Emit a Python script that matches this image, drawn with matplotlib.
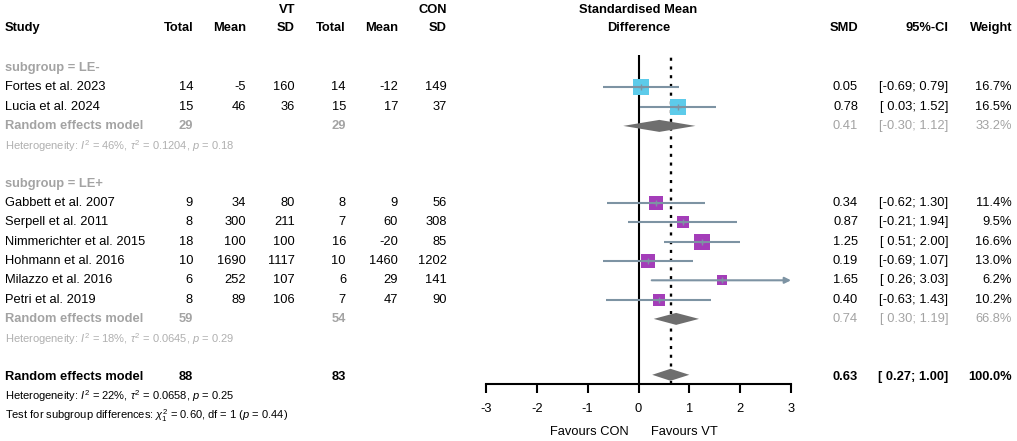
import numpy as np
import matplotlib
matplotlib.use("Agg")
import matplotlib.pyplot as plt

plt.rcParams['font.family'] = ['Liberation Sans', 'DejaVu Sans']
plt.rcParams['mathtext.fontset'] = 'custom'
plt.rcParams['mathtext.rm'] = 'Liberation Sans'
plt.rcParams['mathtext.it'] = 'Liberation Sans:italic'
plt.rcParams['mathtext.bf'] = 'Liberation Sans:bold'

# ---------------- data ----------------
studies = ["Fortes et al. 2023", "Lucia et al. 2024",
           "Gabbett et al. 2007", "Serpell et al. 2011", "Nimmerichter et al. 2015",
           "Hohmann et al. 2016", "Milazzo et al. 2016", "Petri et al. 2019"]
study_group = ["LE-", "LE-", "LE+", "LE+", "LE+", "LE+", "LE+", "LE+"]
vt_n = [14, 15, 9, 8, 18, 10, 6, 8]
vt_mean = [-5, 46, 34, 300, 100, 1690, 252, 89]
vt_sd = [160, 36, 80, 211, 100, 1117, 107, 106]
con_n = [14, 15, 8, 7, 16, 10, 6, 7]
con_mean = [-12, 17, 9, 60, -20, 1460, 29, 47]
con_sd = [149, 37, 56, 308, 85, 1202, 141, 90]
smd = [0.05, 0.78, 0.34, 0.87, 1.25, 0.19, 1.65, 0.40]
ci_lo = [-0.69, 0.03, -0.62, -0.21, 0.51, -0.69, 0.26, -0.63]
ci_hi = [0.79, 1.52, 1.30, 1.94, 2.00, 1.07, 3.03, 1.43]
weight = [16.7, 16.5, 11.4, 9.5, 16.6, 13.0, 6.2, 10.2]

groups = ["LE-", "LE+"]
grp_vt_n = [29, 59]
grp_con_n = [29, 54]
grp_smd = [0.41, 0.74]
grp_lo = [-0.30, 0.30]
grp_hi = [1.12, 1.19]
grp_weight = [33.2, 66.8]
grp_i2 = ["46%", "18%"]
grp_tau2 = ["0.1204", "0.0645"]
grp_p = ["0.18", "0.29"]

all_vt_n = 88
all_con_n = 83
all_smd = 0.63
all_lo = 0.27
all_hi = 1.00
all_weight = 100.0
all_i2 = "22%"
all_tau2 = "0.0658"
all_p = "0.25"
test_chi2 = "0.60"
test_df = 1
test_p = "0.44"

x_ticks = [-3, -2, -1, 0, 1, 2, 3]
group_colors = {"LE-": "#5DCBEA", "LE+": "#A43DB9"}

# ---------------- layout ----------------
W, H = 1017, 441
fig = plt.figure(figsize=(W / 100, H / 100), dpi=100)
ax = fig.add_axes([0, 0, 1, 1])
ax.set_xlim(0, W)
ax.set_ylim(H, 0)
ax.axis('off')

# forest panel: x -3..3 between px 486 and 791, vertical px 55..384
fx0, fx1 = 486, 791
fy_top, fy_bot = 55, 384
fax = fig.add_axes([fx0 / W, (H - fy_bot) / H, (fx1 - fx0) / W, (fy_bot - fy_top) / H])
fax.set_xlim(-3, 3)
fax.set_ylim(fy_bot, fy_top)
fax.patch.set_visible(False)
for s in ['top', 'left', 'right']:
    fax.spines[s].set_visible(False)
fax.spines['bottom'].set_linewidth(1.5)
fax.set_yticks([])
fax.set_xticks(x_ticks)
fax.set_xticklabels([str(t) for t in x_ticks], fontsize=9.3)
fax.tick_params(axis='x', direction='out', length=6.5, width=1.5, pad=7.5)


def row_y(i):
    return 68 + 19.3 * i


FS = 9.3
FS_SMALL = 8
GRAY = "#A3A3A3"
LGRAY = "#B0B0B0"
LINEC = "#7D93A3"
DIAM = "#6E6E6E"

col_study = 5
col_vt_n, col_vt_mean, col_vt_sd = 193, 246, 295
col_con_n, col_con_mean, col_con_sd = 346, 398, 447
col_smd, col_ci, col_w = 858, 948, 1012

# headers
y_h1, y_h2 = 10, 28
ax.text(col_vt_sd, y_h1, "VT", ha='right', va='center', fontsize=FS, fontweight='bold')
ax.text(col_con_sd, y_h1, "CON", ha='right', va='center', fontsize=FS, fontweight='bold')
ax.text(col_study, y_h2, "Study", ha='left', va='center', fontsize=FS, fontweight='bold')
for cx, lab in [(col_vt_n, "Total"), (col_vt_mean, "Mean"), (col_vt_sd, "SD"),
                (col_con_n, "Total"), (col_con_mean, "Mean"), (col_con_sd, "SD"),
                (col_smd, "SMD"), (col_ci, "95%-CI"), (col_w, "Weight")]:
    ax.text(cx, y_h2, lab, ha='right', va='center', fontsize=FS, fontweight='bold')
fax.text(0, y_h1, "Standardised Mean", ha='center', va='center', fontsize=FS,
         fontweight='bold', clip_on=False)
fax.text(0, y_h2, "Difference", ha='center', va='center', fontsize=FS,
         fontweight='bold', clip_on=False)


def fmt_ci(lo, hi):
    return f"[{lo:5.2f};{hi:5.2f}]"


# reference lines
fax.axvline(0, color='black', lw=1.5, zorder=1)
fax.axvline(all_smd, color='black', lw=1.7, linestyle=(0, (1.3, 2.4)), zorder=1)


def diamond(y, est, lo, hi, h=6):
    fax.fill([lo, est, hi, est], [y, y - h, y, y + h], color=DIAM, zorder=4,
             clip_on=False, lw=0)


row = 0
for g_i, g in enumerate(groups):
    ax.text(col_study, row_y(row), f"subgroup = {g}", ha='left', va='center',
            fontsize=FS, fontweight='bold', color=GRAY)
    row += 1
    for k in range(len(studies)):
        if study_group[k] != g:
            continue
        y = row_y(row)
        ax.text(col_study, y, studies[k], ha='left', va='center', fontsize=FS)
        for cx, v in [(col_vt_n, vt_n[k]), (col_vt_mean, vt_mean[k]), (col_vt_sd, vt_sd[k]),
                      (col_con_n, con_n[k]), (col_con_mean, con_mean[k]), (col_con_sd, con_sd[k])]:
            ax.text(cx, y, str(v), ha='right', va='center', fontsize=FS)
        ax.text(col_smd, y, f"{smd[k]:.2f}", ha='right', va='center', fontsize=FS)
        ax.text(col_ci, y, fmt_ci(ci_lo[k], ci_hi[k]), ha='right', va='center', fontsize=FS)
        ax.text(col_w, y, f"{weight[k]:.1f}%", ha='right', va='center', fontsize=FS)
        # marks
        side_px = 4.0 * np.sqrt(weight[k])
        fax.plot([smd[k]], [y], marker='s', markersize=side_px * 0.72,
                 color=group_colors[g], markeredgewidth=0, zorder=3)
        hi_draw = min(ci_hi[k], 3)
        lo_draw = max(ci_lo[k], -3)
        if ci_hi[k] > 3:
            fax.annotate("", xy=(3, y), xytext=(lo_draw, y),
                         arrowprops=dict(arrowstyle='-|>', color=LINEC, lw=1.5,
                                         mutation_scale=9, shrinkA=0, shrinkB=0),
                         zorder=5, annotation_clip=False)
        else:
            fax.plot([lo_draw, hi_draw], [y, y], color=LINEC, lw=1.5, zorder=5,
                     solid_capstyle='butt')
        fax.plot([smd[k]], [y], marker='+', markersize=4, color=LINEC,
                 markeredgewidth=1, zorder=6)
        row += 1
    y = row_y(row)
    ax.text(col_study, y, "Random effects model", ha='left', va='center', fontsize=FS,
            fontweight='bold', color=GRAY)
    ax.text(col_vt_n, y, str(grp_vt_n[g_i]), ha='right', va='center', fontsize=FS,
            fontweight='bold', color=GRAY)
    ax.text(col_con_n, y, str(grp_con_n[g_i]), ha='right', va='center', fontsize=FS,
            fontweight='bold', color=GRAY)
    ax.text(col_smd, y, f"{grp_smd[g_i]:.2f}", ha='right', va='center', fontsize=FS, color=GRAY)
    ax.text(col_ci, y, fmt_ci(grp_lo[g_i], grp_hi[g_i]), ha='right', va='center',
            fontsize=FS, color=GRAY)
    ax.text(col_w, y, f"{grp_weight[g_i]:.1f}%", ha='right', va='center', fontsize=FS, color=GRAY)
    diamond(y, grp_smd[g_i], grp_lo[g_i], grp_hi[g_i])
    row += 1
    ax.text(col_study, row_y(row) + 1,
            f"Heterogeneity: $I^2$ = {grp_i2[g_i]}, $\\tau^2$ = {grp_tau2[g_i]}, $p$ = {grp_p[g_i]}",
            ha='left', va='center', fontsize=FS_SMALL, color=LGRAY)
    row += 2

y = row_y(row)
ax.text(col_study, y, "Random effects model", ha='left', va='center', fontsize=FS, fontweight='bold')
ax.text(col_vt_n, y, str(all_vt_n), ha='right', va='center', fontsize=FS, fontweight='bold')
ax.text(col_con_n, y, str(all_con_n), ha='right', va='center', fontsize=FS, fontweight='bold')
ax.text(col_smd, y, f"{all_smd:.2f}", ha='right', va='center', fontsize=FS, fontweight='bold')
ax.text(col_ci, y, fmt_ci(all_lo, all_hi), ha='right', va='center', fontsize=FS, fontweight='bold')
ax.text(col_w, y, f"{all_weight:.1f}%", ha='right', va='center', fontsize=FS, fontweight='bold')
diamond(y - 2, all_smd, all_lo, all_hi)
row += 1
ax.text(col_study, row_y(row),
        f"Heterogeneity: $I^2$ = {all_i2}, $\\tau^2$ = {all_tau2}, $p$ = {all_p}",
        ha='left', va='center', fontsize=FS_SMALL)
row += 1
ax.text(col_study, row_y(row),
        f"Test for subgroup differences: $\\chi^2_{test_df}$ = {test_chi2}, df = {test_df} ($p$ = {test_p})",
        ha='left', va='center', fontsize=FS_SMALL)

# favours labels
fax.text(-0.2, 432, "Favours CON", ha='right', va='center', fontsize=FS, clip_on=False)
fax.text(0.24, 432, "Favours VT", ha='left', va='center', fontsize=FS, clip_on=False)

fig.savefig("out.png", dpi=100)
